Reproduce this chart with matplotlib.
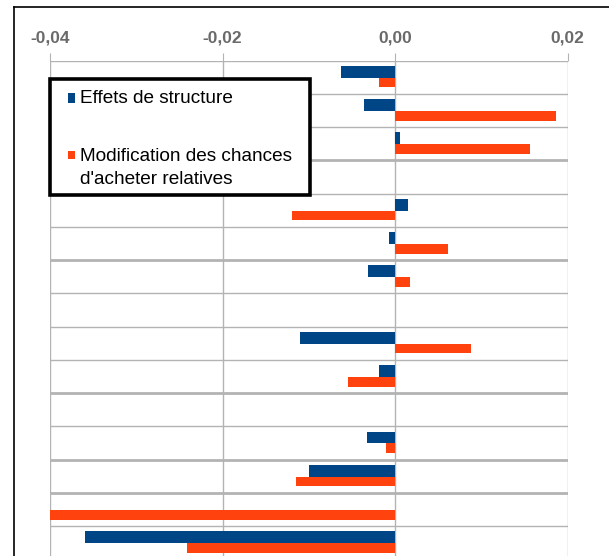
import numpy as np
import matplotlib
matplotlib.use("Agg")
import matplotlib.pyplot as plt
from matplotlib.patches import Rectangle
from matplotlib.lines import Line2D

plt.rcParams['font.family'] = ['Liberation Sans', 'DejaVu Sans']

# data (rows from top to bottom, nan = no bar)
rows = np.arange(15)
effets = [-0.0063, -0.0036, 0.0006, np.nan, 0.0015, -0.0007, -0.0031, np.nan,
          -0.0110, -0.0018, np.nan, -0.0033, -0.0100, np.nan, -0.0360]
chances = [-0.0018, 0.0187, 0.0156, np.nan, -0.0120, 0.0061, 0.0017, np.nan,
           0.0088, -0.0054, np.nan, -0.0010, -0.0115, -0.0440, -0.0241]
xticks = [-0.04, -0.02, 0.0, 0.02]
xlabels = ['-0,04', '-0,02', '0,00', '0,02']
thick_rows = [3, 6, 10, 12, 13]
names = ['Effets de structure', "Modification des chances", "d'acheter relatives"]
blue, orange, grid = '#004586', '#ff420e', '#b3b3b3'

W, H = 609, 556
fig = plt.figure(figsize=(W / 100, H / 100), dpi=100)

def fx(px):
    return px / W

def fy(py):
    return 1 - py / H

top, step = 60.5, 33.25
ax = fig.add_axes([fx(50), fy(top + 15 * step), fx(567.5) - fx(50), 15 * step / H])

ax.barh(rows + 0.3375, effets, height=0.355, color=blue, zorder=3)
ax.barh(rows + 0.6625, chances, height=0.295, color=orange, zorder=3)

ax.set_xlim(-0.04, 0.02)
ax.set_ylim(15, 0)
for b in range(16):
    ax.axhline(b, color=grid, lw=2.0 if b in thick_rows else 1.0, zorder=1)
for x in xticks:
    ax.axvline(x, color=grid, lw=1.0, zorder=1)

ax.xaxis.tick_top()
ax.set_xticks(xticks)
ax.set_xticklabels(xlabels, fontsize=12.5, color='#6a6a6a', fontweight='bold')
ax.tick_params(axis='x', length=5.5, width=0.8, color=grid, pad=5)
ax.set_yticks([])
for s in ax.spines.values():
    s.set_visible(False)

# outer frame (left and top edges visible in the crop)
fig.add_artist(Line2D([fx(14), fx(14)], [fy(6.5), 0], color='black', lw=1.2))
fig.add_artist(Line2D([fx(14), 1], [fy(6.5), fy(6.5)], color='black', lw=1.2))

# legend box
fig.add_artist(Rectangle((fx(50), fy(195)), fx(310) - fx(50), fy(79.5) - fy(195),
                         transform=fig.transFigure, facecolor='white',
                         edgecolor='black', lw=2.6, zorder=5))
for col, y0, y1 in [(blue, 92.7, 102.7), (orange, 151, 158.5)]:
    fig.add_artist(Rectangle((fx(67.7), fy(y1)), fx(7.4), (y1 - y0) / H,
                             transform=fig.transFigure, facecolor=col,
                             edgecolor='none', zorder=6))
for name, base in zip(names, [103, 161, 184]):
    fig.text(fx(79.5), fy(base), name, fontsize=13.7, color='black',
             va='baseline', ha='left', zorder=6)

fig.savefig('out.png', dpi=100)
